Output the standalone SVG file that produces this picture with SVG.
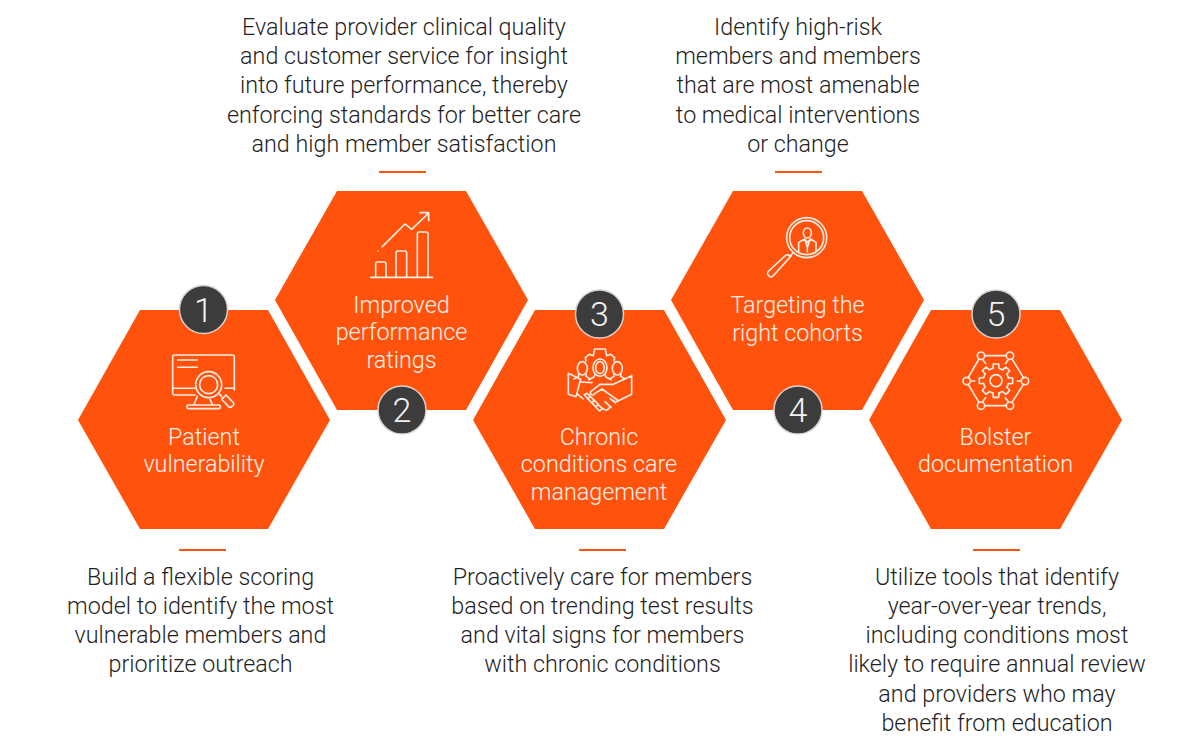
<svg xmlns="http://www.w3.org/2000/svg" width="1200" height="750" viewBox="0 0 1200 750">
<style>
text{font-family:Roboto,"Liberation Sans",sans-serif;font-weight:300;font-size:23.300px;text-anchor:middle}
.d{fill:#1f1f1f}
.l{fill:#fff0e8}
.h{fill:#ff530d}
.b{fill:#3c3c3c;stroke:#d9d2cc;stroke-width:1.5}
.n{fill:#f2f2f2;font-size:34px}
.r{stroke:#ff530d;stroke-width:2;fill:none}
.i{fill:none;stroke:#ffeee5;stroke-width:4.800;stroke-linecap:round;stroke-linejoin:round}
</style>
<defs>
<path id="tooth" d="M-9 -38L-8 -50H8L9 -38"/>
</defs>
<rect width="1200" height="750" fill="#fff"/>
<g id="connectors">
<path class="r" d="M179 550h47M379 172h47M579 550h47M775 172h47M973 550h47"/>
</g>
<g id="node-1">
<polygon class="h" points="78,420 140,310 268,310 330,420 268,529 140,529"/>
<g class="i" transform="translate(140 280) scale(.3333)">
<path d="M165 345H104a6 6 0 0 1-6-6V231a6 6 0 0 1 6-6H277a6 6 0 0 1 6 6V330"/>
<path d="M98 325H165M255 325H283M113 240H172M113 262H172"/>
<path d="M172 348L162 375M210 358L218 375M146 386a5 5 0 0 1 0-11H236a5 5 0 0 1 0 11Z"/>
<circle cx="206" cy="314" r="39"/>
<circle cx="206" cy="314" r="27"/>
<path d="M236 340L245 350M245 358L266 380a6 6 0 0 0 9 0l5-4a6 6 0 0 0 0-8L258 345Z"/>
</g>
<text class="l" x="204" y="445">Patient</text>
<text class="l" x="204" y="472">vulnerability</text>
<circle class="b" cx="203.500" cy="309.500" r="24"/>
<text class="n" x="203.500" y="321.500">1</text>
<text class="d" x="200.500" y="585">Build a flexible scoring</text>
<text class="d" x="200.500" y="614">model to identify the most</text>
<text class="d" x="200.500" y="643">vulnerable members and</text>
<text class="d" x="200.500" y="672">prioritize outreach</text>
</g>
<g id="node-2">
<polygon class="h" points="275,300 337,191 466,191 528,300 466,410 337,410"/>
<g class="i" transform="translate(350 200) scale(.3333)">
<path d="M62 232H248M77 232V192a6 6 0 0 1 6-6H102a6 6 0 0 1 6 6V232M138 232V159a6 6 0 0 1 6-6H164a6 6 0 0 1 6 6V232M202 232V102a6 6 0 0 1 6-6H228a6 6 0 0 1 6 6V232"/>
<path d="M97 140L165 72L185 88L235 40M210 38H236V62M84 153h.1"/>
</g>
<text class="l" x="401.500" y="313">Improved</text>
<text class="l" x="401.500" y="340">performance</text>
<text class="l" x="401.500" y="368">ratings</text>
<circle class="b" cx="402" cy="410" r="24"/>
<text class="n" x="402" y="422">2</text>
<text class="d" x="404" y="34.500">Evaluate provider clinical quality</text>
<text class="d" x="404" y="63.500">and customer service for insight</text>
<text class="d" x="404" y="93">into future performance, thereby</text>
<text class="d" x="404" y="122.500">enforcing standards for better care</text>
<text class="d" x="404" y="151.500">and high member satisfaction</text>
</g>
<g id="node-3">
<polygon class="h" points="473,420 535,310 664,310 726,420 664,529 535,529"/>
<g class="i" transform="translate(550 335) scale(.3333)">
<path d="M108 78L106 68L118 58L130 62L134 42H166L170 62L182 58L194 68L192 78"/>
<ellipse cx="97" cy="100" rx="15" ry="20"/>
<ellipse cx="150" cy="98" rx="21" ry="26"/>
<ellipse cx="150" cy="98" rx="13" ry="18"/>
<ellipse cx="202" cy="100" rx="15" ry="20"/>
<path d="M85 117L86 124L72 132M109 117L108 124L118 130M134 120L132 126L116 134M166 120L168 126L184 134M191 117L192 124L182 130M213 117L212 124L226 132"/>
<path d="M55 115L92 133L78 185L55 178Z"/>
<path d="M245 122V178L196 202L190 196M245 122L190 148H150L122 170a6 6 0 0 0 12 6L156 162L204 196"/>
<path d="M91 141L126 143M83 178L100 192"/>
<path d="M103 179l8-4 10 9-8 7ZM113 191l8-7 12 12-8 7ZM125 203l8-7 12 12-8 7ZM137 216l8-7 12 12-8 7Z"/>
<path d="M157 221L170 226L182 215M165 200L183 217M180 190L196 204"/>
</g>
<text class="l" x="599" y="445">Chronic</text>
<text class="l" x="599" y="472">conditions care</text>
<text class="l" x="599" y="500">management</text>
<circle class="b" cx="599.500" cy="314" r="24"/>
<text class="n" x="599.500" y="326">3</text>
<text class="d" x="602.500" y="585">Proactively care for members</text>
<text class="d" x="602.500" y="614">based on trending test results</text>
<text class="d" x="602.500" y="643">and vital signs for members</text>
<text class="d" x="602.500" y="672">with chronic conditions</text>
</g>
<g id="node-4">
<polygon class="h" points="671,300 733,191 862,191 924,300 862,410 733,410"/>
<g class="i" transform="translate(750 205) scale(.3333)">
<circle cx="170" cy="98" r="60"/><circle cx="170" cy="98" r="51"/>
<ellipse cx="172" cy="84" rx="12" ry="15"/>
<path d="M146 140V112L164 102L172 112L182 102L198 112V140M165 103L172 128L180 103M172 128V140"/>
<path d="M128 145L118 154M124 152L70 212a10 10 0 0 1-14 0a10 10 0 0 1 0-14L106 152a8 8 0 0 1 12 0l6 0Z"/>
</g>
<text class="l" x="797.500" y="313">Targeting the</text>
<text class="l" x="797.500" y="341">right cohorts</text>
<circle class="b" cx="798" cy="410" r="24"/>
<text class="n" x="798" y="422">4</text>
<text class="d" x="798" y="34.500">Identify high-risk</text>
<text class="d" x="798" y="63.500">members and members</text>
<text class="d" x="798" y="93">that are most amenable</text>
<text class="d" x="798" y="122.500">to medical interventions</text>
<text class="d" x="798" y="151.500">or change</text>
</g>
<g id="node-5">
<polygon class="h" points="869,420 931,310 1060,310 1122,420 1060,529 931,529"/>
<g class="i" transform="translate(950 340) scale(.3333)">
<circle cx="93" cy="47" r="11"/><circle cx="180" cy="47" r="11"/><circle cx="50" cy="123" r="11"/><circle cx="225" cy="123" r="11"/><circle cx="93" cy="197" r="11"/><circle cx="180" cy="197" r="11"/>
<path d="M105 47H168M186 57L220 112M220 134L186 187M168 197H105M87 187L55 134M55 112L87 57"/>
<path d="M63 123H74M202 123H213M99 60L107 71M174 60L166 71M99 184L107 173M174 184L166 173"/>
<g transform="translate(138 122)">
<circle r="18"/>
<circle r="38" stroke-dasharray="11.850 18" stroke-dashoffset="20.850"/>
<use href="#tooth"/><use href="#tooth" transform="rotate(45)"/><use href="#tooth" transform="rotate(90)"/><use href="#tooth" transform="rotate(135)"/><use href="#tooth" transform="rotate(180)"/><use href="#tooth" transform="rotate(225)"/><use href="#tooth" transform="rotate(270)"/><use href="#tooth" transform="rotate(315)"/>
</g>
</g>
<text class="l" x="995.500" y="445">Bolster</text>
<text class="l" x="995.500" y="472">documentation</text>
<circle class="b" cx="996" cy="314" r="24"/>
<text class="n" x="996" y="326">5</text>
<text class="d" x="997" y="585">Utilize tools that identify</text>
<text class="d" x="997" y="614">year-over-year trends,</text>
<text class="d" x="997" y="643">including conditions most</text>
<text class="d" x="997" y="672">likely to require annual review</text>
<text class="d" x="997" y="702">and providers who may</text>
<text class="d" x="997" y="731">benefit from education</text>
</g>
</svg>
